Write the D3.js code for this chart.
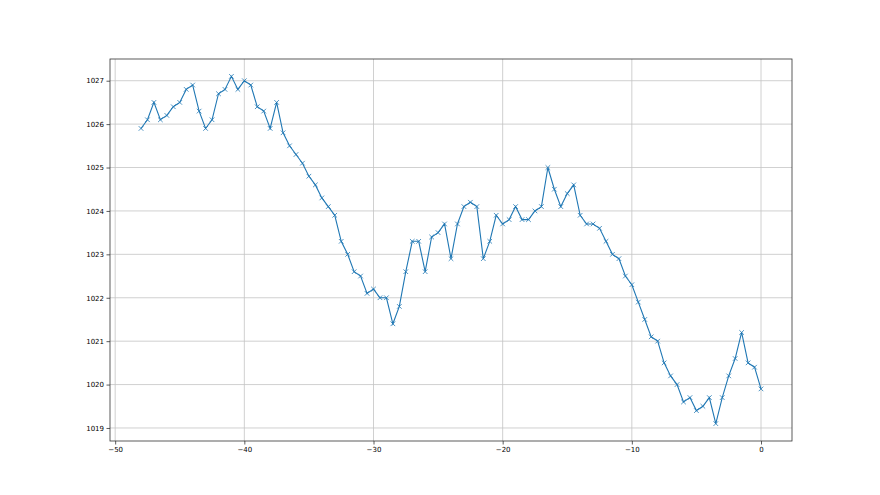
<!DOCTYPE html>
<html>
<head>
<meta charset="utf-8">
<script src="https://cdn.jsdelivr.net/npm/d3@7"></script>
<style>
  body { margin: 0; background: #fff; }
  svg { display: block; }
  .tick text { font-family: "DejaVu Sans", sans-serif; font-size: 7px; fill: #000; }
</style>
</head>
<body>
<svg id="chart" width="880" height="495"></svg>
<script>
// x positions run from -48 to 0 in half steps
const xs = d3.range(-48, 0.25, 0.5);

const pressure = [
  1025.9, 1026.1, 1026.5, 1026.1, 1026.2, 1026.4, 1026.5, 1026.8, 1026.9, 1026.3,
  1025.9, 1026.1, 1026.7, 1026.8, 1027.1, 1026.8, 1027.0, 1026.9, 1026.4, 1026.3,
  1025.9, 1026.5, 1025.8, 1025.5, 1025.3, 1025.1, 1024.8, 1024.6, 1024.3, 1024.1,
  1023.9, 1023.3, 1023.0, 1022.6, 1022.5, 1022.1, 1022.2, 1022.0, 1022.0, 1021.4,
  1021.8, 1022.6, 1023.3, 1023.3, 1022.6, 1023.4, 1023.5, 1023.7, 1022.9, 1023.7,
  1024.1, 1024.2, 1024.1, 1022.9, 1023.3, 1023.9, 1023.7, 1023.8, 1024.1, 1023.8,
  1023.8, 1024.0, 1024.1, 1025.0, 1024.5, 1024.1, 1024.4, 1024.6, 1023.9, 1023.7,
  1023.7, 1023.6, 1023.3, 1023.0, 1022.9, 1022.5, 1022.3, 1021.9, 1021.5, 1021.1,
  1021.0, 1020.5, 1020.2, 1020.0, 1019.6, 1019.7, 1019.4, 1019.5, 1019.7, 1019.1,
  1019.7, 1020.2, 1020.6, 1021.2, 1020.5, 1020.4, 1019.9
];

const xTicks = [-50, -40, -30, -20, -10, 0];
const yTicks = [1019, 1020, 1021, 1022, 1023, 1024, 1025, 1026, 1027];

const data = xs.map((x, i) => ({x: x, y: pressure[i]}));

const svg = d3.select('#chart');
const pL = 110, pR = 792, pT = 59, pB = 441;

// matplotlib style 5% margins
const xExt = d3.extent(xs), yExt = d3.extent(pressure);
const xPad = (xExt[1] - xExt[0]) * 0.05, yPad = (yExt[1] - yExt[0]) * 0.05;
const x = d3.scaleLinear().domain([xExt[0] - xPad, xExt[1] + xPad]).range([pL, pR]);
const y = d3.scaleLinear().domain([yExt[0] - yPad, yExt[1] + yPad]).range([pB, pT]);

// grid
const grid = svg.append('g');
grid.selectAll('.vg').data(xTicks).enter().append('line')
  .attr('x1', d => x(d)).attr('x2', d => x(d))
  .attr('y1', pT).attr('y2', pB)
  .attr('stroke', '#c4c4c4').attr('stroke-width', 0.8);
grid.selectAll('.hg').data(yTicks).enter().append('line')
  .attr('x1', pL).attr('x2', pR)
  .attr('y1', d => y(d)).attr('y2', d => y(d))
  .attr('stroke', '#c4c4c4').attr('stroke-width', 0.8);

// line + x markers
const line = d3.line().x(d => x(d.x)).y(d => y(d.y));
svg.append('path').datum(data)
  .attr('d', line)
  .attr('fill', 'none')
  .attr('stroke', '#1f77b4')
  .attr('stroke-width', 1.1);

const m = 2.3;
svg.append('g').selectAll('path').data(data).enter().append('path')
  .attr('d', d => {
    const cx = x(d.x), cy = y(d.y);
    return `M${cx - m},${cy - m}L${cx + m},${cy + m}M${cx - m},${cy + m}L${cx + m},${cy - m}`;
  })
  .attr('stroke', '#1f77b4')
  .attr('stroke-width', 0.8);

// axes
const xAxis = svg.append('g').attr('transform', `translate(0,${pB})`)
  .call(d3.axisBottom(x).tickValues(xTicks).tickSize(3.5).tickPadding(2.5).tickFormat(d => d3.format('d')(d).replace('-', '\u2212')));
const yAxis = svg.append('g').attr('transform', `translate(${pL},0)`)
  .call(d3.axisLeft(y).tickValues(yTicks).tickSize(3.5).tickPadding(2.5).tickFormat(d3.format('d')));
[xAxis, yAxis].forEach(a => {
  a.select('.domain').remove();
  a.selectAll('.tick line').attr('stroke', '#333').attr('stroke-width', 0.8);
});

// frame
svg.append('rect')
  .attr('x', pL).attr('y', pT)
  .attr('width', pR - pL).attr('height', pB - pT)
  .attr('fill', 'none').attr('stroke', '#333').attr('stroke-width', 0.8);
</script>
</body>
</html>
